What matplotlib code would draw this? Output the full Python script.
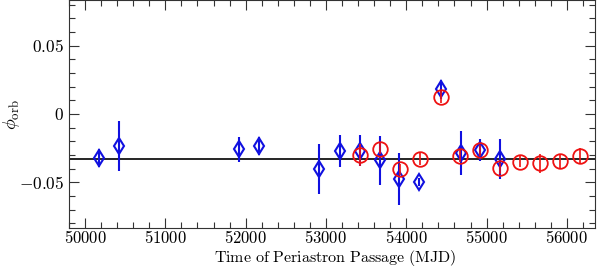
import matplotlib
matplotlib.use("Agg")
import matplotlib.pyplot as plt
from matplotlib.ticker import MultipleLocator, FuncFormatter

plt.rcParams['mathtext.fontset'] = 'cm'
plt.rcParams['font.family'] = 'serif'
plt.rcParams['font.serif'] = ['DejaVu Serif']

# Blue diamonds
blue_mjd = [50170, 50420, 51922, 52170, 52918, 53172, 53425, 53670, 53914, 54163, 54437, 54679, 54923, 55168]
blue_phi = [-0.032, -0.0234, -0.0258, -0.0234, -0.0403, -0.0271, -0.0268, -0.0339, -0.0478, -0.0496, 0.018, -0.0288, -0.0266, -0.0327]
blue_err = [0.0066, 0.018, 0.009, 0.0068, 0.0183, 0.012, 0.0113, 0.0178, 0.019, 0.003, 0.007, 0.016, 0.008, 0.0146]

# Red circles
red_mjd = [53425, 53674, 53918, 54172, 54437, 54675, 54918, 55168, 55417, 55666, 55919, 56168]
red_phi = [-0.030, -0.0256, -0.0405, -0.0327, 0.0127, -0.0305, -0.0266, -0.0398, -0.0349, -0.0361, -0.0344, -0.0307]
red_err = [0.008, 0.004, 0.004, 0.0044, 0.005, 0.005, 0.004, 0.004, 0.004, 0.0071, 0.0048, 0.0057]

mean_phi = -0.033

fig = plt.figure(figsize=(6.0, 2.68), dpi=100)
ax = fig.add_axes([69/600, 1 - 228/268, (595-69)/600, 228/268])

ax.axhline(mean_phi, color='black', lw=1.2, zorder=1)
ax.errorbar(blue_mjd, blue_phi, yerr=blue_err, fmt='d', color='#1010e0', mfc='none',
            mec='#1010e0', ms=8, mew=1.5, elinewidth=1.5, capsize=0, zorder=3)
ax.errorbar(red_mjd, red_phi, yerr=red_err, fmt='o', color='#ee1111', mfc='none',
            mec='#ee1111', ms=10.5, mew=1.3, elinewidth=1.2, capsize=0, zorder=4)

ax.set_xlim(49800, 56350)
ax.set_ylim(-0.0835, 0.0835)
ax.xaxis.set_major_locator(MultipleLocator(1000))
ax.xaxis.set_minor_locator(MultipleLocator(200))
ax.yaxis.set_major_locator(MultipleLocator(0.05))
ax.yaxis.set_minor_locator(MultipleLocator(0.01))

def yfmt(v, p):
    if abs(v) < 1e-9:
        return r'$0$'
    return r'$%.2f$' % v
ax.yaxis.set_major_formatter(FuncFormatter(yfmt))
ax.xaxis.set_major_formatter(FuncFormatter(lambda v, p: r'$%d$' % int(round(v))))

ax.tick_params(which='both', direction='in', top=True, right=True, labelsize=12.5,
               colors='#333333', labelcolor='black')
ax.tick_params(axis='x', labelsize=12, pad=1.5)
ax.tick_params(which='major', length=7, width=0.8)
ax.tick_params(which='minor', length=4, width=0.8)
for s in ax.spines.values():
    s.set_color('#333333')
    s.set_linewidth(0.8)

fig.text(335/600, 6/268, r'$\mathrm{Time\ of\ Periastron\ Passage\ (MJD)}$',
         fontsize=11.5, ha='center', va='baseline')
fig.text(12/600, 1 - 115/268, r'$\phi_{\rm orb}$', fontsize=13, rotation=90,
         ha='center', va='center')

fig.savefig('out.png', dpi=100)
